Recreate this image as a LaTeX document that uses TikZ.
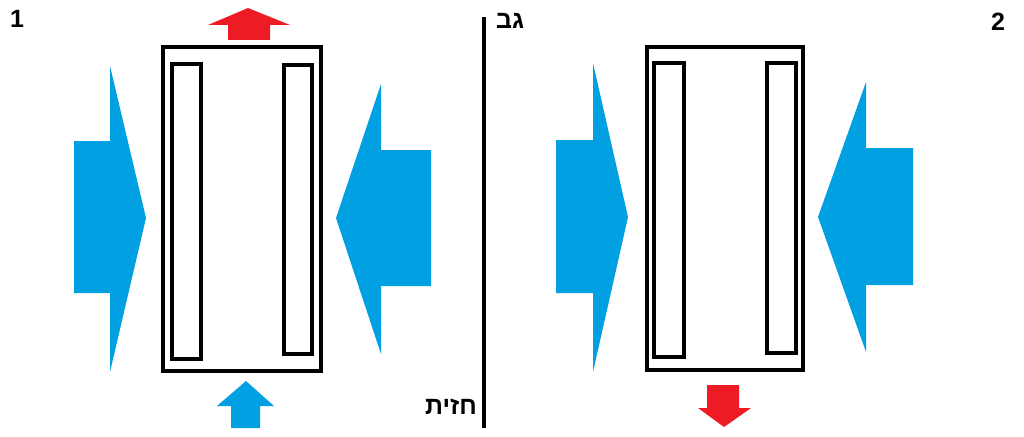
\documentclass[tikz,border=0pt]{standalone}
\usepackage{fontspec}
\setmainfont{Liberation Sans}
\newfontfamily\hebfont[Script=Hebrew]{Liberation Sans Bold}
\TeXXeTstate=1
\definecolor{arrblue}{RGB}{0,160,227}
\definecolor{arrred}{RGB}{237,28,36}
\begin{document}
\begin{tikzpicture}[x=1pt,y=-1pt,
  frame/.style={draw=black,line width=3.2pt},
  slot/.style={draw=black,line width=3.2pt},
  bluefill/.style={fill=arrblue,draw=none},
  redfill/.style={fill=arrred,draw=none},
  numlabel/.style={font=\fontsize{25}{30}\selectfont\bfseries,inner sep=0pt},
  heblabel/.style={font=\hebfont\fontsize{25}{30}\selectfont,inner sep=0pt}]
\useasboundingbox (0,0) rectangle (1024,436);
\fill[white] (0,0) rectangle (1024,436);
% ---------- panel 1 ----------
\draw[frame] (163,47) rectangle (321,371);
\draw[slot] (172,64) rectangle (201,359);
\draw[slot] (284,65) rectangle (312,354);
% red up arrow (top)
\fill[redfill] (228,40) -- (228,25) -- (208,25) -- (248,8) -- (290,25) -- (270,25) -- (270,40) -- cycle;
% blue up arrow (bottom)
\fill[bluefill] (231,428) -- (231,406) -- (217,406) -- (246,381) -- (274,406) -- (260,406) -- (260,428) -- cycle;
% left blue arrow pointing right
\fill[bluefill] (74,141) -- (110,141) -- (110,66) -- (146,218) -- (110,372) -- (110,293) -- (74,293) -- cycle;
% right blue arrow pointing left
\fill[bluefill] (431,150) -- (381,150) -- (381,84) -- (336,218) -- (381,354) -- (381,286) -- (431,286) -- cycle;
% ---------- divider ----------
\draw[line width=3.5pt] (484,17) -- (484,428);
% ---------- panel 2 ----------
\draw[frame] (647,47) rectangle (803,370);
\draw[slot] (654,63) rectangle (684,357);
\draw[slot] (767,63) rectangle (796,353);
% red down arrow
\fill[redfill] (707,385) -- (739,385) -- (739,408) -- (751,408) -- (724,427) -- (698,408) -- (707,408) -- cycle;
% left blue arrow pointing right
\fill[bluefill] (556,140) -- (593,140) -- (593,63) -- (628,217) -- (593,372) -- (593,293) -- (556,293) -- cycle;
% right blue arrow pointing left
\fill[bluefill] (913,148) -- (866,148) -- (866,82) -- (818,217) -- (866,352) -- (866,285) -- (913,285) -- cycle;
% ---------- labels ----------
\node[numlabel] (n1) at (17,19) {1};
\node[numlabel] (n2) at (998,22) {2};
\node[heblabel,anchor=west] (gav) at (496,21) {\beginR גב\endR};
\node[heblabel,anchor=east] (hazit) at (477,407) {\beginR חזית\endR};
\end{tikzpicture}
\end{document}
